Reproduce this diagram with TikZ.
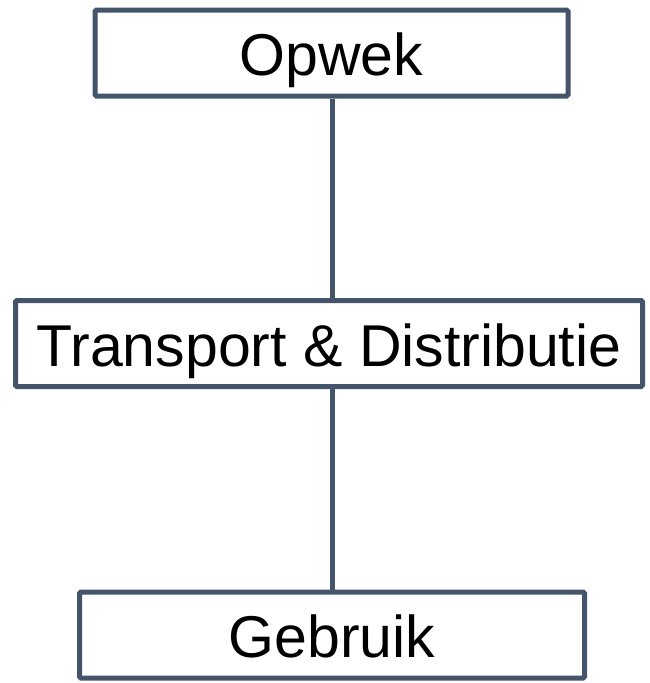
\documentclass[tikz,border=0pt]{standalone}
\usepackage{fontspec}
\setmainfont{Liberation Sans}
\newlength{\du}
\setlength{\du}{1pt}
\definecolor{dialinecolor}{rgb}{0.267, 0.329, 0.416}
\tikzset{
  levelbox/.style={draw=dialinecolor, fill=white, line width=5\du, rounded corners=1.5\du,
    minimum height=86\du, inner sep=0pt, text height=45\du, text depth=0pt,
    font=\fontsize{59}{62}\selectfont},
  levellink/.style={draw=dialinecolor, line width=5\du}
}

\begin{document}
\begin{tikzpicture}
\useasboundingbox (0\du,0\du) rectangle (649\du,-683\du);
% schakels
\node[levelbox, minimum width=473\du] (opwek) at (331.5\du,-53\du){Opwek};
\node[levelbox, minimum width=627\du] (transport) at (329\du,-343.5\du){Transport \& Distributie};
\node[levelbox, minimum width=505\du] (gebruik) at (332\du,-635\du){Gebruik};
% verbindingen
\draw[levellink] (opwek.south -| 332\du,0) -- (transport.north -| 332\du,0);
\draw[levellink] (transport.south -| 332\du,0) -- (gebruik.north -| 332\du,0);
\end{tikzpicture}
\end{document}
